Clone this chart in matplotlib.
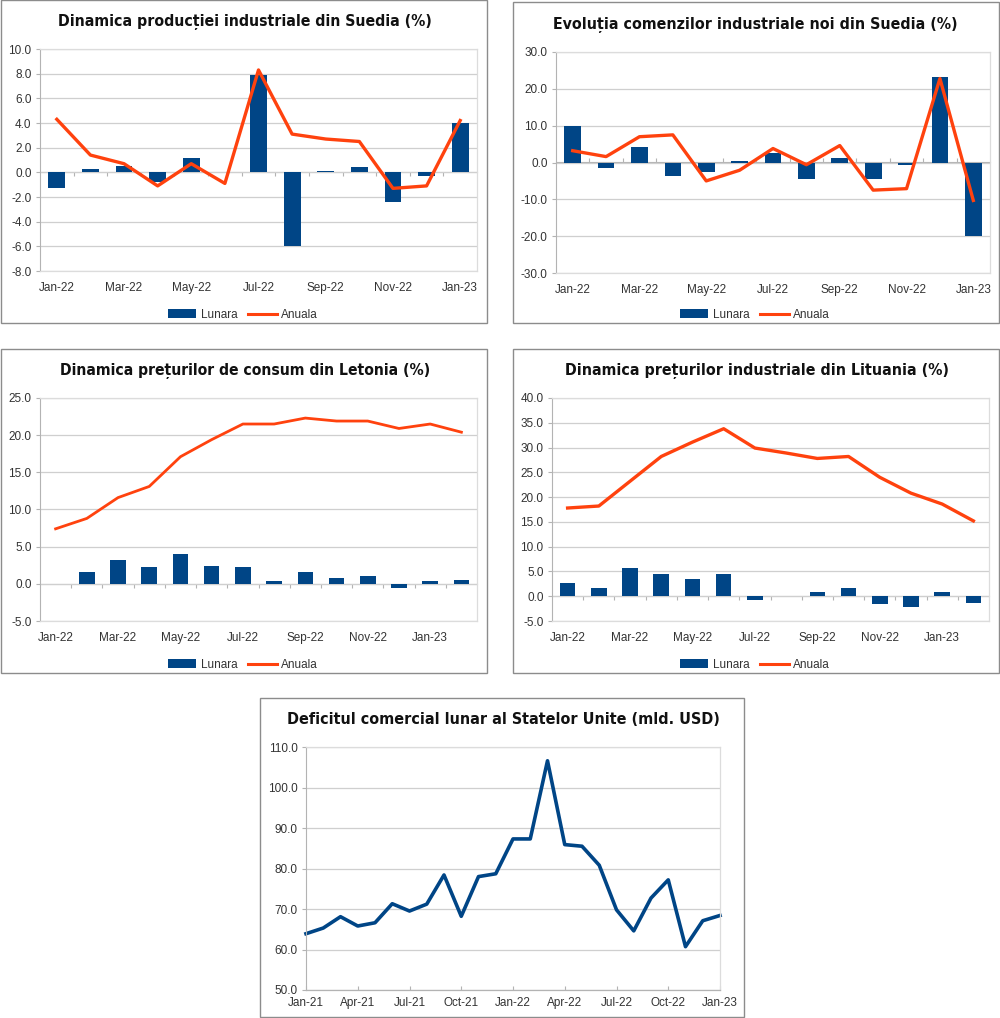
import numpy as np
import matplotlib
matplotlib.use("Agg")
import matplotlib.pyplot as plt
from matplotlib import font_manager
from matplotlib.patches import Rectangle, Patch
from matplotlib.lines import Line2D
from matplotlib.ticker import FormatStrFormatter, MultipleLocator

plt.rcParams['font.family'] = ['Liberation Sans', 'DejaVu Sans']
plt.rcParams['axes.unicode_minus'] = False

# --- data ---
months_22 = ['Jan-22', 'Feb-22', 'Mar-22', 'Apr-22', 'May-22', 'Jun-22', 'Jul-22',
             'Aug-22', 'Sep-22', 'Oct-22', 'Nov-22', 'Dec-22', 'Jan-23']
months_22b = months_22 + ['Feb-23']

se_prod_lunara = [-1.3, 0.3, 0.5, -0.8, 1.2, 0.0, 7.9, -6.0, 0.1, 0.4, -2.4, -0.3, 4.0]
se_prod_anuala = [4.3, 1.4, 0.7, -1.1, 0.7, -0.9, 8.3, 3.1, 2.7, 2.5, -1.3, -1.1, 4.2]

se_orders_lunara = [10.0, -1.5, 4.1, -3.6, -2.5, 0.4, 2.5, -4.5, 1.1, -4.5, -0.7, 23.2, -20.0]
se_orders_anuala = [3.2, 1.6, 7.0, 7.5, -5.0, -2.1, 3.8, -0.6, 4.6, -7.5, -7.1, 22.8, -10.3]

lv_cpi_lunara = [0.0, 1.6, 3.2, 2.2, 4.0, 2.4, 2.2, 0.4, 1.6, 0.8, 1.1, -0.5, 0.4, 0.5]
lv_cpi_anuala = [7.4, 8.8, 11.6, 13.1, 17.1, 19.4, 21.5, 21.5, 22.3, 21.9, 21.9, 20.9, 21.5, 20.4]

lt_ppi_lunara = [2.6, 1.6, 5.6, 4.4, 3.4, 4.4, -0.8, 0.0, 0.8, 1.6, -1.5, -2.2, 0.8, -1.4]
lt_ppi_anuala = [17.8, 18.2, 23.2, 28.2, 31.1, 33.8, 29.9, 28.9, 27.8, 28.2, 24.0, 20.8, 18.6, 15.2]

us_months = ['Jan-21', 'Feb-21', 'Mar-21', 'Apr-21', 'May-21', 'Jun-21', 'Jul-21', 'Aug-21',
             'Sep-21', 'Oct-21', 'Nov-21', 'Dec-21', 'Jan-22', 'Feb-22', 'Mar-22', 'Apr-22',
             'May-22', 'Jun-22', 'Jul-22', 'Aug-22', 'Sep-22', 'Oct-22', 'Nov-22', 'Dec-22', 'Jan-23']
us_deficit = [63.9, 65.3, 68.1, 65.8, 66.6, 71.3, 69.5, 71.2, 78.4, 68.2, 78.0, 78.7, 87.3,
              87.3, 106.6, 85.9, 85.5, 80.8, 69.8, 64.6, 72.7, 77.2, 60.7, 67.1, 68.4]

NAVY = '#004586'
ORANGE = '#ff420e'
GRID = '#cfcfcf'
AXIS = '#b3b3b3'
TXT = '#333333'
W, H = 1000, 1018

# pick a narrow bold face for the titles if one is installed
installed = {(f.name, f.stretch) for f in font_manager.fontManager.ttflist}
TITLE_FONT = {'family': 'DejaVu Sans', 'stretch': 'normal'}
for name, stretch in [('Liberation Sans Narrow', 'condensed'), ('Liberation Sans Narrow', 'normal'),
                      ('Roboto Condensed', 'normal'), ('Open Sans Condensed', 'normal'),
                      ('DejaVu Sans', 'condensed'), ('DejaVu Sans', 'semi-condensed'),
                      ('Roboto', 'condensed')]:
    if (name, stretch) in installed:
        TITLE_FONT = {'family': name, 'stretch': stretch}
        break

fig = plt.figure(figsize=(W / 100, H / 100), dpi=100)
renderer = fig.canvas.get_renderer()


def px_rect(l, t, r, b):
    return [l / W, 1 - b / H, (r - l) / W, (b - t) / H]


def frame_box(l, t, r, b):
    fig.add_artist(Rectangle((l / W, 1 - b / H), (r - l) / W, (b - t) / H,
                             transform=fig.transFigure, fill=False,
                             edgecolor='#8c8c8c', lw=1.0))


def title(text, cx, cy, width_px):
    t = fig.text(cx / W, 1 - cy / H, text, ha='center', va='center', fontsize=15,
                 fontweight='bold', family=TITLE_FONT['family'],
                 fontstretch=TITLE_FONT['stretch'], color='#111111')
    w = t.get_window_extent(renderer).width
    t.set_fontsize(min(15, 15 * width_px / w))


def style_axes(ax, ylim, ystep):
    ax.set_ylim(*ylim)
    ax.yaxis.set_major_locator(MultipleLocator(ystep))
    ax.yaxis.set_major_formatter(FormatStrFormatter('%.1f'))
    ax.grid(axis='y', color=GRID, lw=0.9)
    ax.set_axisbelow(True)
    for s in ['top', 'right', 'bottom']:
        ax.spines[s].set_color('#dcdcdc')
        ax.spines[s].set_linewidth(0.9)
    ax.spines['left'].set_color(AXIS)
    ax.tick_params(axis='y', length=3, color=AXIS, labelsize=8.5, labelcolor=TXT, pad=3)
    ax.tick_params(axis='x', length=0, labelsize=8.5, labelcolor=TXT, pad=8)


def bar_line_panel(rect, labels, lunara, anuala, ylim, ystep, lw, legend_xy):
    ax = fig.add_axes(px_rect(*rect))
    x = np.arange(len(labels))
    ax.bar(x, lunara, width=0.5, color=NAVY, zorder=2)
    ax.plot(x, anuala, color=ORANGE, lw=lw, zorder=3, solid_joinstyle='round')
    ax.set_xlim(-0.5, len(labels) - 0.5)
    style_axes(ax, ylim, ystep)
    ax.set_xticks(x[::2], labels[::2])
    # category axis crossing at zero, ticks between categories
    zero = (0 - ylim[0]) / (ylim[1] - ylim[0])
    sec = ax.secondary_xaxis(zero)
    bounds = np.arange(0.5, len(labels) - 0.5, 1.0)
    sec.set_xticks(bounds, [''] * len(bounds))
    sec.tick_params(length=3, color=AXIS, direction='out')
    sec.spines['bottom'].set_color(AXIS)
    sec.spines['top'].set_color(AXIS)
    handles = [Patch(facecolor=NAVY), Line2D([], [], color=ORANGE, lw=2.2)]
    ax.legend(handles, ['Lunara', 'Anuala'], loc='center',
              bbox_to_anchor=(legend_xy[0] / W, 1 - legend_xy[1] / H),
              bbox_transform=fig.transFigure, ncol=2, frameon=False, fontsize=8.5,
              handlelength=2.4, handleheight=0.8, columnspacing=0.9, handletextpad=0.4,
              labelcolor=TXT)
    return ax


# top-left
frame_box(1, 0, 487, 323)
title('Dinamica producției industriale din Suedia (%)', 245, 22, 375)
bar_line_panel((40, 49, 477, 271), months_22, se_prod_lunara, se_prod_anuala,
               (-8, 10), 2, 2.4, (243, 315))

# top-right
frame_box(513, 2, 999, 323)
title('Evoluția comenzilor industriale noi din Suedia (%)', 755, 25, 403)
bar_line_panel((556, 52, 990, 273), months_22, se_orders_lunara, se_orders_anuala,
               (-30, 30), 10, 2.4, (755, 315))

# middle-left
frame_box(1, 349, 487, 673)
title('Dinamica prețurilor de consum din Letonia (%)', 245, 371, 373)
bar_line_panel((40, 398, 477, 621), months_22b, lv_cpi_lunara, lv_cpi_anuala,
               (-5, 25), 5, 2.0, (243, 665))

# middle-right
frame_box(513, 349, 999, 673)
title('Dinamica prețurilor industriale din Lituania (%)', 757, 371, 382)
bar_line_panel((552, 398, 989, 621), months_22b, lt_ppi_lunara, lt_ppi_anuala,
               (-5, 40), 5, 2.4, (755, 665))

# bottom
frame_box(260, 698, 744, 1017)
title('Deficitul comercial lunar al Statelor Unite (mld. USD)', 503, 719, 431)
ax5 = fig.add_axes(px_rect(306, 747, 720, 990))
xu = np.arange(len(us_months))
ax5.plot(xu, us_deficit, color=NAVY, lw=2.6, solid_joinstyle='round', clip_on=False)
ax5.set_xlim(0, len(us_months) - 1)
style_axes(ax5, (50, 110), 10)
ax5.set_xticks(xu[::3], us_months[::3])
ax5.spines['bottom'].set_color(AXIS)
ax5.tick_params(axis='x', length=3, direction='in', color=AXIS, pad=5)

fig.savefig('out.png', dpi=100)
